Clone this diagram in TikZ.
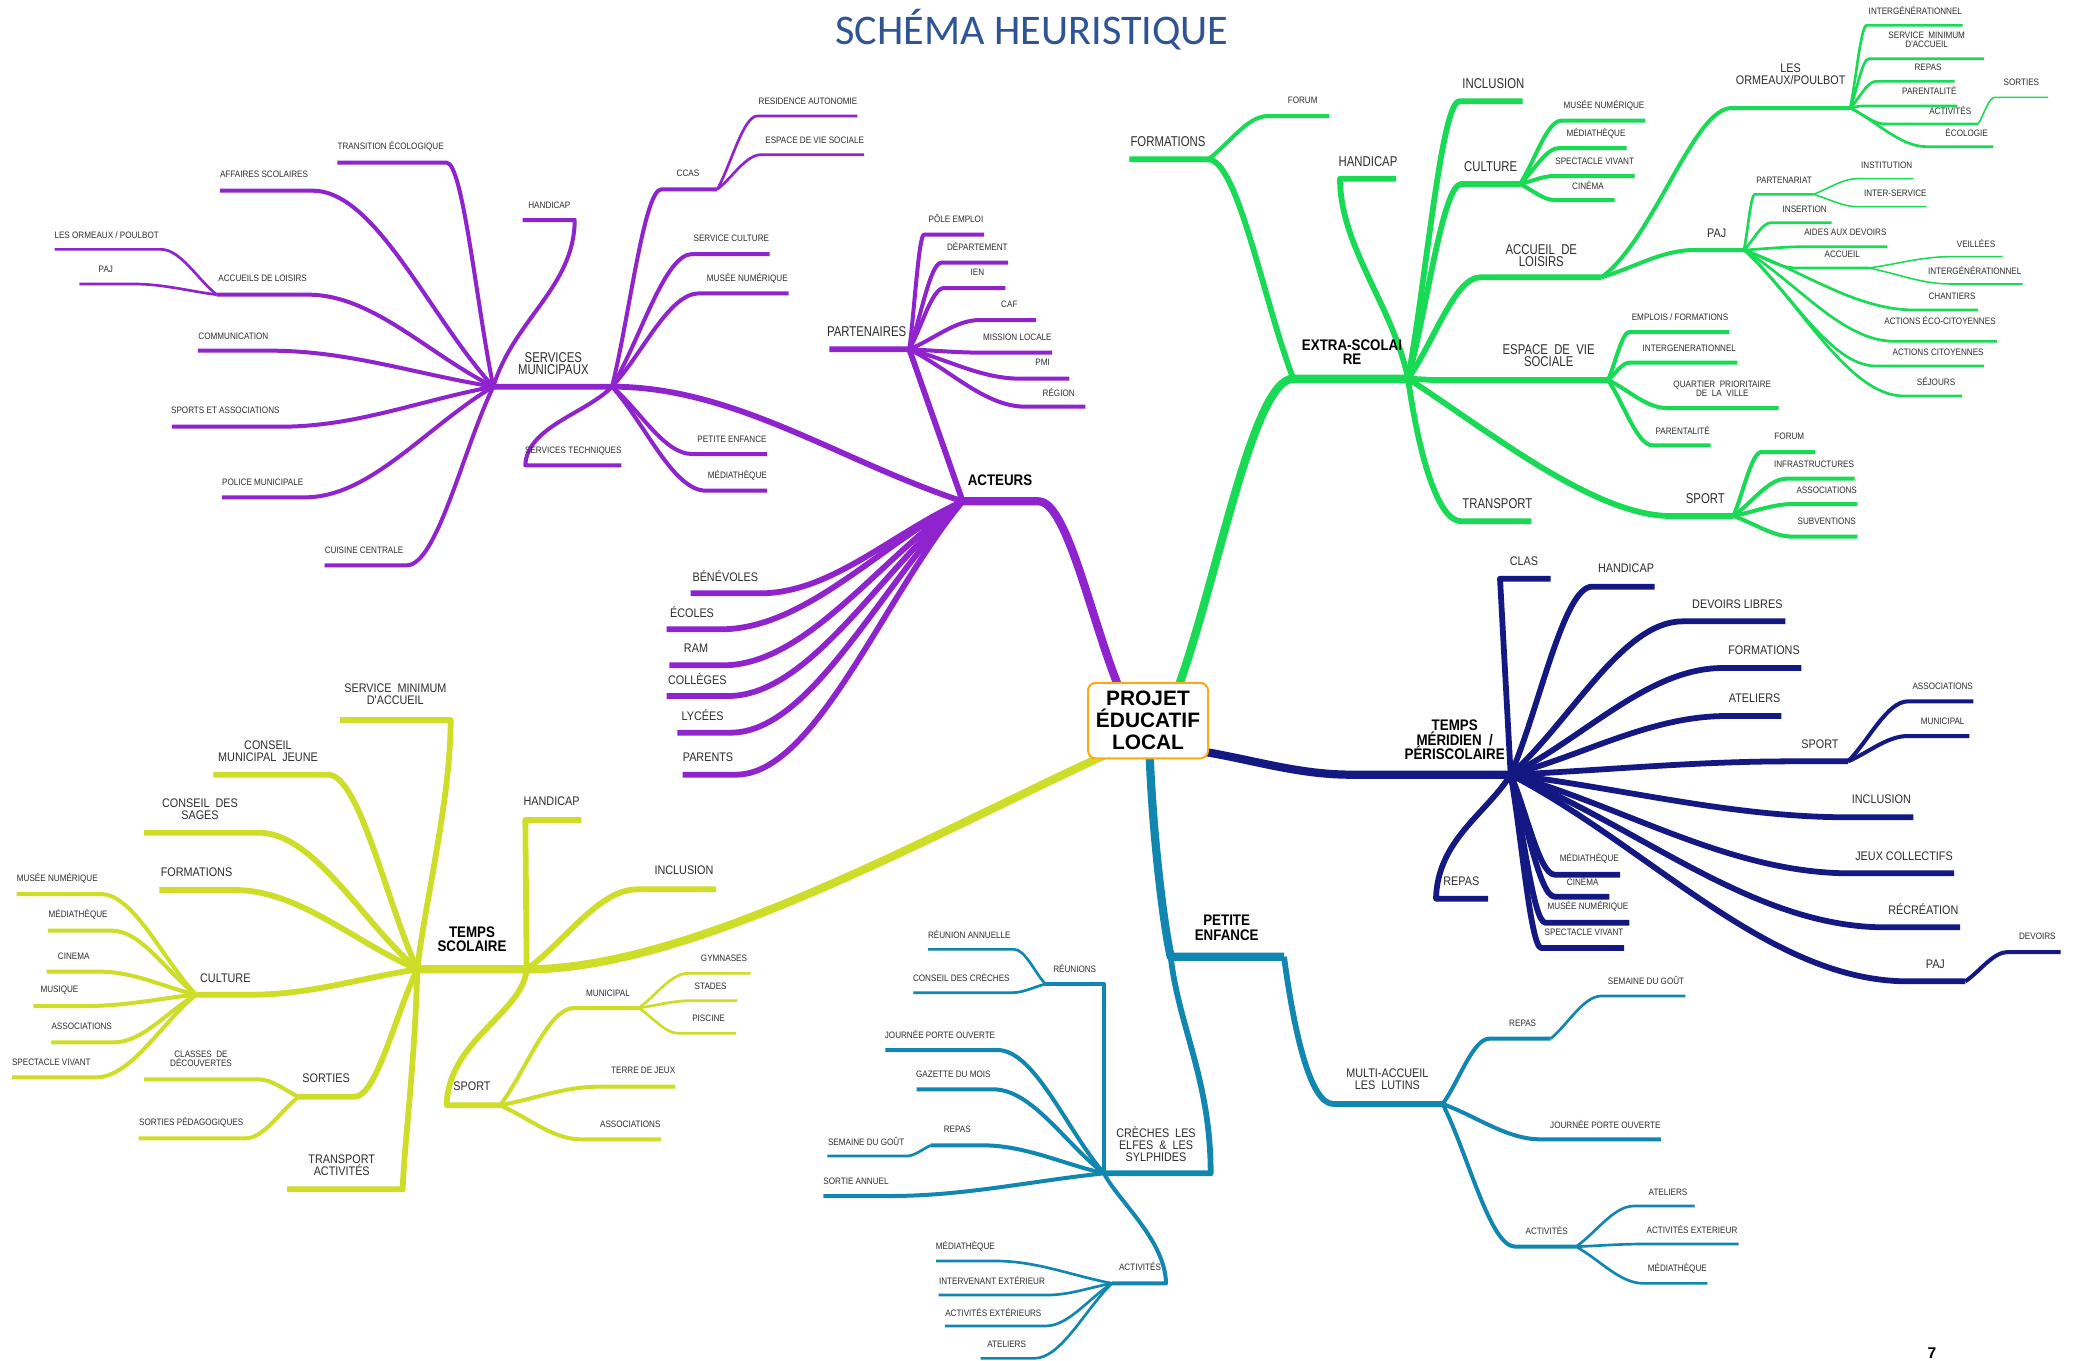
\documentclass[tikz,border=0pt]{standalone}
\usepackage{fontspec}
\setmainfont{Liberation Sans}
\newfontfamily\nf[FakeStretch=0.87]{Liberation Sans}
\newfontfamily\nfm[FakeStretch=0.8]{Liberation Sans}
\newfontfamily\ttlfont{Carlito}
\usetikzlibrary{calc}
\pgfdeclarelayer{fg}
\pgfsetlayers{main,fg}
\definecolor{cPur}{RGB}{143,35,205}
\definecolor{cGrn}{RGB}{24,218,85}
\definecolor{cNav}{RGB}{19,24,130}
\definecolor{cTea}{RGB}{16,134,176}
\definecolor{cYel}{RGB}{205,221,40}
\definecolor{cTit}{RGB}{47,84,150}
\definecolor{cOra}{RGB}{255,168,20}
\definecolor{cTxt}{RGB}{45,45,45}
\tikzset{
 br/.style={to path={let \p1=(\tikztostart),\p2=(\tikztotarget) in .. controls ({0.65*\x1+0.35*\x2},{0.65*\y1+0.35*\y2}) and ({0.35*\x1+0.65*\x2},\y2) .. (\tikztotarget)}},
 ln/.style={to path={-- (\tikztotarget)}},
 cc/.style 2 args={to path={.. controls #1 and #2 .. (\tikztotarget)}},
 w1/.style={line width=3.7pt}, w2/.style={line width=2.6pt}, w3/.style={line width=1.8pt},
 w4/.style={line width=1.2pt}, w5/.style={line width=0.7pt},
 pu/.style={draw=cPur,line join=round}, gr/.style={draw=cGrn,line join=round},
 nv/.style={draw=cNav,line join=round}, te/.style={draw=cTea,line join=round},
 ye/.style={draw=cYel,line join=round},
 lt/.style={font={\nf\fontsize{4.2}{4.0}\selectfont\lineskiplimit=-5pt},text=cTxt,inner sep=0pt,align=center},
 ls/.style={font={\nf\fontsize{5.6}{5.5}\selectfont\lineskiplimit=-5pt},text=cTxt,inner sep=0pt,align=center},
 lm/.style={font={\nfm\fontsize{6.4}{5.4}\selectfont\lineskiplimit=-5pt},text=cTxt,inner sep=0pt,align=center},
 lb/.style={font={\nf\bfseries\fontsize{6.9}{6.5}\selectfont\lineskiplimit=-5pt},text=black,inner sep=0pt,align=center},
}
% #1 line style, #2 curve, #3 parent, #4 name, #5 sx, #6 y, #7 ex, #8 label options, #9 text
\newcommand\Lf[9]{%
  \coordinate (#4s) at (#5,#6);
  \coordinate (#4) at (#7,#6);
  \draw[#1] (#3) to[#2] (#4s) -- (#4);
  \begin{pgfonlayer}{fg}\node[#8] (#4t) {#9};\end{pgfonlayer}}
\begin{document}
\begin{tikzpicture}[x=0.6pt,y=-0.6pt]
\fill[white] (0,0) rectangle (1560,1020);
\useasboundingbox (0,0) rectangle (1560,1020);
\node[font=\ttlfont\fontsize{19}{22}\selectfont,text=cTit] (title) at (774,22) {SCHÉMA HEURISTIQUE};

\coordinate (c-a) at (841,520);
\coordinate (c-g) at (882,520);
\coordinate (c-n) at (898,563);
\coordinate (c-t) at (862,560);
\coordinate (c-y) at (838,562);

% ===== ACTEURS
\Lf{pu,w1}{br}{c-a}{p-act}{779}{376}{722}{lb,at={(750,360)}}{ACTEURS}
\Lf{pu,w2}{br}{p-act}{p-ben}{570}{445}{518}{ls,at={(544,432)}}{BÉNÉVOLES}
\Lf{pu,w2}{br}{p-act}{p-eco}{540}{472}{500}{ls,at={(519,459)}}{ÉCOLES}
\Lf{pu,w2}{br}{p-act}{p-ram}{542}{499}{502}{ls,at={(522,486)}}{RAM}
\Lf{pu,w2}{br}{p-act}{p-col}{546}{522}{500}{ls,at={(523,509)}}{COLLÈGES}
\Lf{pu,w2}{br}{p-act}{p-lyc}{548}{549.5}{508}{ls,at={(527,536.5)}}{LYCÉES}
\Lf{pu,w2}{br}{p-act}{p-prt}{552}{581}{512}{ls,at={(531,568)}}{PARENTS}
\Lf{pu,w2}{br}{p-act}{p-sm}{459}{290}{370}{lm,at={(415,273)}}{SERVICES\\MUNICIPAUX}
\Lf{pu,w2}{ln}{p-act}{p-par}{682}{262}{622}{lm,at={(650,249)}}{PARTENAIRES}
\Lf{pu,w3}{br}{p-pars}{p-pol}{693}{176}{738}{lt,at={(717,164)}}{PÔLE EMPLOI}
\Lf{pu,w3}{br}{p-pars}{p-dep}{706}{197}{756}{lt,at={(733,185)}}{DÉPARTEMENT}
\Lf{pu,w3}{br}{p-pars}{p-ien}{708}{216}{754}{lt,at={(733,204)}}{IEN}
\Lf{pu,w3}{br}{p-pars}{p-caf}{735}{240}{777}{lt,at={(757,228)}}{CAF}
\Lf{pu,w3}{br}{p-pars}{p-mis}{737}{264.5}{789}{lt,at={(763,253)}}{MISSION LOCALE}
\Lf{pu,w3}{br}{p-pars}{p-pmi}{765}{284}{802}{lt,at={(782,272)}}{PMI}
\Lf{pu,w3}{br}{p-pars}{p-reg}{769}{305}{814}{lt,at={(794,294)}}{RÉGION}
\Lf{pu,w3}{br}{p-sm}{p-tra}{335}{122}{253}{lt,at={(293,110)}}{TRANSITION ÉCOLOGIQUE}
\Lf{pu,w3}{br}{p-sm}{p-aff}{234.5}{143}{165}{lt,at={(198,131)}}{AFFAIRES SCOLAIRES}
\Lf{pu,w3}{cc={(385,240)}{(431,215)}}{p-sm}{p-han}{431}{165}{392}{lt,at={(412,154)}}{HANDICAP}
\Lf{pu,w3}{br}{p-sm}{p-adl}{231}{221}{162.5}{lt,at={(197,209)}}{ACCUEILS DE LOISIRS}
\Lf{pu,w3}{br}{p-sm}{p-com}{202.7}{263}{148.4}{lt,at={(175,252)}}{COMMUNICATION}
\Lf{pu,w3}{br}{p-sm}{p-spa}{211}{320}{129}{lt,at={(169,308)}}{SPORTS ET ASSOCIATIONS}
\Lf{pu,w3}{br}{p-sm}{p-pom}{228.8}{373}{166.5}{lt,at={(197,361.5)}}{POLICE MUNICIPALE}
\Lf{pu,w3}{br}{p-sm}{p-cui}{305}{424}{243.5}{lt,at={(273,412.5)}}{CUISINE CENTRALE}
\Lf{pu,w4}{br}{p-adl}{p-orm}{120.6}{187}{41}{lt,at={(80,176)}}{LES ORMEAUX / POULBOT}
\Lf{pu,w4}{br}{p-adl}{p-paj}{100.5}{213}{59.6}{lt,at={(79.4,202)}}{PAJ}
\Lf{pu,w3}{br}{p-sms}{p-cca}{496}{142}{538}{lt,at={(516,130)}}{CCAS}
\Lf{pu,w4}{br}{p-cca}{p-res}{568}{87}{643}{lt,at={(606,76)}}{RESIDENCE AUTONOMIE}
\Lf{pu,w4}{br}{p-cca}{p-evs}{571}{116}{648}{lt,at={(611,105.5)}}{ESPACE DE VIE SOCIALE}
\Lf{pu,w3}{br}{p-sms}{p-scu}{519.3}{190.5}{577.3}{lt,at={(548.5,178.5)}}{SERVICE CULTURE}
\Lf{pu,w3}{br}{p-sms}{p-mus}{524.4}{220}{591.4}{lt,at={(560.5,208.7)}}{MUSÉE NUMÉRIQUE}
\Lf{pu,w3}{br}{p-sms}{p-pen}{519}{340.5}{575.3}{lt,at={(549,329.5)}}{PETITE ENFANCE}
\Lf{pu,w3}{br}{p-sms}{p-med}{529.4}{368}{575.3}{lt,at={(553,356.7)}}{MÉDIATHÈQUE}
\Lf{pu,w3}{cc={(440,310)}{(395,320)}}{p-sms}{p-ste}{394}{349}{466}{lt,at={(430,338)}}{SERVICES TECHNIQUES}

% ===== EXTRA-SCOLAIRE
\Lf{gr,w1}{br}{c-g}{g-ex}{970}{284}{1056}{lb,at={(1014,264)}}{EXTRA-SCOLAI\\RE}
\Lf{gr,w2}{br}{g-exs}{g-fmt}{906}{119.5}{847}{lm,at={(876,106)}}{FORMATIONS}
\Lf{gr,w3}{br}{g-fmts}{g-for}{951}{87}{997}{lt,at={(977,75)}}{FORUM}
\Lf{gr,w2}{cc={(1045,230)}{(1005,185)}}{g-ex}{g-han}{1005}{134}{1047}{lm,at={(1026,121)}}{HANDICAP}
\Lf{gr,w2}{br}{g-ex}{g-inc}{1094.5}{76}{1142}{lm,at={(1120,63)}}{INCLUSION}
\Lf{gr,w2}{br}{g-ex}{g-cul}{1096}{138}{1140}{lm,at={(1118,125)}}{CULTURE}
\Lf{gr,w3}{br}{g-cul}{g-cmn}{1171}{90.5}{1234}{lt,at={(1203,79)}}{MUSÉE NUMÉRIQUE}
\Lf{gr,w3}{br}{g-cul}{g-cme}{1169.5}{111}{1220}{lt,at={(1197,100)}}{MÉDIATHÈQUE}
\Lf{gr,w3}{br}{g-cul}{g-csv}{1166}{132}{1226}{lt,at={(1196,121)}}{SPECTACLE VIVANT}
\Lf{gr,w3}{br}{g-cul}{g-cci}{1166}{150}{1211}{lt,at={(1191,139)}}{CINÉMA}
\Lf{gr,w2}{br}{g-ex}{g-adl}{1110}{208}{1201}{lm,at={(1156,191.5)}}{ACCUEIL~~DE\\LOISIRS}
\Lf{gr,w3}{cc={(1240,180)}{(1270,81)}}{g-adl}{g-orm}{1298.7}{81}{1387.7}{ls,at={(1343,55.5)}}{LES\\ORMEAUX/POULBOT}
\Lf{gr,w4}{br}{g-orm}{g-oig}{1400}{19}{1472}{lt,at={(1436.5,8)}}{INTERGÉNÉRATIONNEL}
\Lf{gr,w4}{br}{g-orm}{g-osm}{1401.6}{44}{1488}{lt,at={(1445,30)}}{SERVICE~~MINIMUM\\D'ACCUEIL}
\Lf{gr,w4}{br}{g-orm}{g-ore}{1407}{61}{1466}{lt,at={(1446,50.5)}}{REPAS}
\Lf{gr,w4}{br}{g-orm}{g-opa}{1396.4}{79.5}{1468}{lt,at={(1447,67.5)}}{PARENTALITÉ}
\Lf{gr,w4}{br}{g-orm}{g-oac}{1414}{93}{1483.6}{lt,at={(1462.7,82.5)}}{ACTIVITÉS}
\Lf{gr,w5}{br}{g-oac}{g-oso}{1496}{73}{1536}{lt,at={(1516,62)}}{SORTIES}
\Lf{gr,w4}{br}{g-orm}{g-oec}{1445}{110}{1495}{lt,at={(1475,99.5)}}{ÉCOLOGIE}
\Lf{gr,w3}{br}{g-adl}{g-paj}{1270.8}{187.5}{1308}{ls,at={(1287.5,175)}}{PAJ}
\Lf{gr,w4}{br}{g-paj}{g-ppa}{1316}{145.75}{1360}{lt,at={(1338,135.5)}}{PARTENARIAT}
\Lf{gr,w5}{br}{g-ppa}{g-pin}{1393}{134}{1435}{lt,at={(1415,124)}}{INSTITUTION}
\Lf{gr,w5}{br}{g-ppa}{g-pis}{1393}{155}{1445}{lt,at={(1421.5,145)}}{INTER-SERVICE}
\Lf{gr,w4}{br}{g-paj}{g-pie}{1328.4}{167}{1373.7}{lt,at={(1353.5,156.75)}}{INSERTION}
\Lf{gr,w4}{br}{g-paj}{g-pad}{1354.5}{185}{1415.6}{lt,at={(1384,174.5)}}{AIDES AUX DEVOIRS}
\Lf{gr,w4}{br}{g-paj}{g-pac}{1347.5}{201}{1401.6}{lt,at={(1381.7,191)}}{ACCUEIL}
\Lf{gr,w5}{br}{g-pac}{g-pve}{1462.7}{192.5}{1502}{lt,at={(1482,182.5)}}{VEILLÉES}
\Lf{gr,w5}{br}{g-pac}{g-pig}{1462.7}{213}{1517}{lt,at={(1481,203)}}{INTERGÉNÉRATIONNEL}
\Lf{gr,w4}{br}{g-paj}{g-pch}{1436}{232.5}{1483.6}{lt,at={(1464,222)}}{CHANTIERS}
\Lf{gr,w4}{br}{g-paj}{g-pae}{1420.8}{256}{1497.6}{lt,at={(1455,240)}}{ACTIONS ÉCO-CITOYENNES}
\Lf{gr,w4}{br}{g-paj}{g-pct}{1407}{274.5}{1488}{lt,at={(1453.6,264)}}{ACTIONS CITOYENNES}
\Lf{gr,w4}{br}{g-paj}{g-psj}{1428}{297}{1471.4}{lt,at={(1452,286)}}{SÉJOURS}
\Lf{gr,w2}{ln}{g-ex}{g-evs}{1075}{285}{1206}{lm,at={(1161.5,267)}}{ESPACE~~DE~~VIE\\SOCIALE}
\Lf{gr,w3}{br}{g-evs}{g-eem}{1222}{249}{1297}{lt,at={(1260,237.5)}}{EMPLOIS / FORMATIONS}
\Lf{gr,w3}{br}{g-evs}{g-eig}{1222}{272}{1303}{lt,at={(1267,261)}}{INTERGENERATIONNEL}
\Lf{gr,w3}{br}{g-evs}{g-eqp}{1250}{306}{1334}{lt,at={(1291.7,291.5)}}{QUARTIER~~PRIORITAIRE\\DE~~LA~~VILLE}
\Lf{gr,w3}{br}{g-evs}{g-epa}{1239.4}{334}{1283}{lt,at={(1262,322.5)}}{PARENTALITÉ}
\Lf{gr,w2}{cc={(1064,340)}{(1078,391)}}{g-ex}{g-tra}{1096}{391}{1148.6}{lm,at={(1123,377.5)}}{TRANSPORT}
\Lf{gr,w2}{cc={(1115,322)}{(1195,387)}}{g-ex}{g-spo}{1253}{387}{1300}{lm,at={(1279,374)}}{SPORT}
\Lf{gr,w3}{br}{g-spo}{g-sfo}{1321}{339}{1361.5}{lt,at={(1342,327.5)}}{FORUM}
\Lf{gr,w3}{br}{g-spo}{g-sin}{1340}{359}{1391}{lt,at={(1360.5,348)}}{INFRASTRUCTURES}
\Lf{gr,w3}{br}{g-spo}{g-sas}{1345}{378}{1393}{lt,at={(1370,367.5)}}{ASSOCIATIONS}
\Lf{gr,w3}{br}{g-spo}{g-ssu}{1345}{402.5}{1393}{lt,at={(1370,391)}}{SUBVENTIONS}

% ===== TEMPS MERIDIEN
\Lf{nv,w1}{br}{c-n}{n-tm}{1013}{581}{1133}{lb,at={(1091,555)}}{TEMPS\\MÉRIDIEN~~/\\PÉRISCOLAIRE}
\Lf{nv,w2}{ln}{n-tm}{n-cla}{1125}{434}{1163}{ls,at={(1143,421)}}{CLAS}
\Lf{nv,w2}{br}{n-tm}{n-han}{1194}{440}{1241}{ls,at={(1219.5,426)}}{HANDICAP}
\Lf{nv,w2}{br}{n-tm}{n-dev}{1262}{466}{1339}{ls,at={(1303,453)}}{DEVOIRS LIBRES}
\Lf{nv,w2}{br}{n-tm}{n-for}{1292}{501}{1351}{ls,at={(1323,487.5)}}{FORMATIONS}
\Lf{nv,w2}{br}{n-tm}{n-ate}{1295}{537}{1336}{ls,at={(1316,524)}}{ATELIERS}
\Lf{nv,w2}{br}{n-tm}{n-spo}{1344}{571}{1386}{ls,at={(1365,558)}}{SPORT}
\Lf{nv,w3}{br}{n-spo}{n-sas}{1431}{526}{1480}{lt,at={(1457,515)}}{ASSOCIATIONS}
\Lf{nv,w3}{br}{n-spo}{n-smu}{1431}{552}{1477}{lt,at={(1457,541)}}{MUNICIPAL}
\Lf{nv,w2}{br}{n-tm}{n-inc}{1388}{613}{1435}{ls,at={(1411,599.5)}}{INCLUSION}
\Lf{nv,w2}{br}{n-tm}{n-jeu}{1388}{655}{1465.5}{ls,at={(1428,642)}}{JEUX COLLECTIFS}
\Lf{nv,w2}{br}{n-tm}{n-rec}{1414}{695.5}{1470}{ls,at={(1442.5,682)}}{RÉCRÉATION}
\Lf{nv,w2}{br}{n-tm}{n-paj}{1431}{736}{1474}{ls,at={(1451.5,723)}}{PAJ}
\Lf{nv,w3}{br}{n-paj}{n-dvs}{1506}{714}{1545.5}{lt,at={(1528,702.5)}}{DEVOIRS}
\Lf{nv,w2}{br}{n-tm}{n-med}{1166}{656}{1215}{lt,at={(1192,644)}}{MÉDIATHÈQUE}
\Lf{nv,w2}{br}{n-tm}{n-cin}{1166}{672.5}{1207}{lt,at={(1187,661)}}{CINÉMA}
\Lf{nv,w2}{br}{n-tm}{n-mus}{1159}{692}{1222}{lt,at={(1191,680)}}{MUSÉE NUMÉRIQUE}
\Lf{nv,w2}{br}{n-tm}{n-spe}{1156}{711}{1218}{lt,at={(1188,699)}}{SPECTACLE VIVANT}
\Lf{nv,w2}{cc={(1115,610)}{(1078,630)}}{n-tm}{n-rep}{1077}{674}{1116}{ls,at={(1096,661)}}{REPAS}

% ===== PETITE ENFANCE
\Lf{te,w1}{cc={(864,620)}{(872,690)}}{c-t}{t-pe}{878}{717.5}{963}{lb,at={(920,696)}}{PETITE\\ENFANCE}
\Lf{te,w2}{cc={(970,770)}{(982,828)}}{t-pe}{t-ma}{1000}{828}{1082}{ls,at={(1040.5,809.5)}}{MULTI-ACCUEIL\\LES~~LUTINS}
\Lf{te,w3}{br}{t-ma}{t-mre}{1117}{779}{1163}{lt,at={(1142,767.5)}}{REPAS}
\Lf{te,w4}{br}{t-mre}{t-msg}{1201}{747}{1264}{lt,at={(1234.5,735.5)}}{SEMAINE DU GOÛT}
\Lf{te,w3}{br}{t-ma}{t-mjp}{1155.6}{854.5}{1245.6}{lt,at={(1204,843)}}{JOURNÉE PORTE OUVERTE}
\Lf{te,w3}{br}{t-ma}{t-mac}{1136.4}{935}{1182}{lt,at={(1160,923)}}{ACTIVITÉS}
\Lf{te,w4}{br}{t-mac}{t-mat}{1225.4}{904.5}{1271}{lt,at={(1251,894)}}{ATELIERS}
\Lf{te,w4}{br}{t-mac}{t-mae}{1232.4}{933}{1304}{lt,at={(1269,922)}}{ACTIVITÉS EXTERIEUR}
\Lf{te,w4}{br}{t-mac}{t-mam}{1232.4}{962.5}{1280.5}{lt,at={(1258,951.5)}}{MÉDIATHÈQUE}
\Lf{te,w2}{cc={(884,770)}{(908,810)}}{t-pes}{t-cr}{908}{880}{828}{ls,at={(867,858)}}{CRÈCHES~~LES\\ELFES~~\&~~LES\\SYLPHIDES}
\Lf{te,w3}{ln}{t-cr}{t-reu}{828}{738}{784}{lt,at={(806,726)}}{RÉUNIONS}
\Lf{te,w4}{br}{t-reu}{t-ran}{760.5}{712}{696}{lt,at={(727,701)}}{RÉUNION ANNUELLE}
\Lf{te,w4}{br}{t-reu}{t-ccr}{759}{744.5}{685}{lt,at={(721,733)}}{CONSEIL DES CRÈCHES}
\Lf{te,w3}{br}{t-cr}{t-jpo}{748}{787.5}{664}{lt,at={(705,776)}}{JOURNÉE PORTE OUVERTE}
\Lf{te,w3}{br}{t-cr}{t-gaz}{745}{817}{687.5}{lt,at={(715,805.5)}}{GAZETTE DU MOIS}
\Lf{te,w3}{br}{t-cr}{t-rep}{737}{859}{698}{lt,at={(718,847)}}{REPAS}
\Lf{te,w4}{br}{t-rep}{t-sem}{680}{867}{620.5}{lt,at={(649.6,856)}}{SEMAINE DU GOÛT}
\Lf{te,w3}{br}{t-cr}{t-sor}{667}{897}{617.5}{lt,at={(642,886)}}{SORTIE ANNUEL}
\Lf{te,w3}{cc={(838,900)}{(874,930)}}{t-cr}{t-act}{874.5}{962.5}{834}{lt,at={(855,950)}}{ACTIVITÉS}
\Lf{te,w4}{br}{t-act}{t-ame}{747}{945.75}{702}{lt,at={(724,935)}}{MÉDIATHÈQUE}
\Lf{te,w4}{br}{t-act}{t-aie}{785.6}{971.25}{704}{lt,at={(744,960)}}{INTERVENANT EXTÉRIEUR}
\Lf{te,w4}{br}{t-act}{t-aae}{784}{994.5}{708.6}{lt,at={(745,984)}}{ACTIVITÉS EXTÉRIEURS}
\Lf{te,w4}{br}{t-act}{t-aat}{775.6}{1018.75}{735.4}{lt,at={(755,1008)}}{ATELIERS}

% ===== TEMPS SCOLAIRE
\Lf{ye,w1}{cc={(700,625)}{(520,727)}}{c-y}{y-ts}{395}{727}{313}{lb,at={(354,704.5)}}{TEMPS\\SCOLAIRE}
\Lf{ye,w2}{cc={(318,680)}{(338,600)}}{y-ts}{y-smi}{338}{540}{255}{ls,at={(296.5,520.5)}}{SERVICE~~MINIMUM\\D'ACCUEIL}
\Lf{ye,w2}{br}{y-ts}{y-cmj}{246}{581}{160}{ls,at={(201,563.5)}}{CONSEIL\\MUNICIPAL~~JEUNE}
\Lf{ye,w2}{br}{y-ts}{y-cds}{194}{624.5}{108}{ls,at={(150,607)}}{CONSEIL~~DES\\SAGES}
\Lf{ye,w2}{br}{y-ts}{y-for}{176}{667.5}{119.6}{ls,at={(147.4,654.5)}}{FORMATIONS}
\Lf{ye,w2}{br}{y-ts}{y-cul}{189}{746}{147}{ls,at={(169,734)}}{CULTURE}
\Lf{ye,w3}{br}{y-cul}{y-cmn}{75.4}{670.5}{12.4}{lt,at={(43,659)}}{MUSÉE NUMÉRIQUE}
\Lf{ye,w3}{br}{y-cul}{y-cme}{84}{698}{36}{lt,at={(58.6,686)}}{MÉDIATHÈQUE}
\Lf{ye,w3}{br}{y-cul}{y-cci}{75}{728.75}{35}{lt,at={(55.3,717.5)}}{CINEMA}
\Lf{ye,w3}{br}{y-cul}{y-cmu}{65}{754.5}{25}{lt,at={(44.6,742.5)}}{MUSIQUE}
\Lf{ye,w3}{br}{y-cul}{y-cas}{85.4}{781.75}{38.5}{lt,at={(61.3,770)}}{ASSOCIATIONS}
\Lf{ye,w3}{br}{y-cul}{y-csv}{72}{808}{9}{lt,at={(38.5,797)}}{SPECTACLE VIVANT}
\Lf{ye,w2}{br}{y-ts}{y-sor}{266}{822.5}{224}{ls,at={(244.6,809)}}{SORTIES}
\Lf{ye,w3}{br}{y-sor}{y-cla}{194}{809.5}{108}{lt,at={(150.75,794)}}{CLASSES~~DE\\DÉCOUVERTES}
\Lf{ye,w3}{br}{y-sor}{y-spe}{184}{853.75}{104}{lt,at={(143.4,842)}}{SORTIES PÉDAGOGIQUES}
\Lf{ye,w2}{cc={(311,800)}{(303,860)}}{y-ts}{y-tra}{302}{892}{215.4}{ls,at={(256.3,874)}}{TRANSPORT\\ACTIVITÉS}
\Lf{ye,w2}{ln}{y-tss}{y-han}{394}{615}{436}{ls,at={(413.7,601.25)}}{HANDICAP}
\Lf{ye,w2}{br}{y-tss}{y-inc}{478}{667}{537}{ls,at={(513,653)}}{INCLUSION}
\Lf{ye,w2}{cc={(392,760)}{(336,780)}}{y-tss}{y-spo}{335}{829}{375}{ls,at={(354,815)}}{SPORT}
\Lf{ye,w3}{br}{y-spo}{y-mun}{430.5}{756}{479}{lt,at={(456,745)}}{MUNICIPAL}
\Lf{ye,w4}{br}{y-mun}{y-gym}{516}{730}{563}{lt,at={(543,719)}}{GYMNASES}
\Lf{ye,w4}{br}{y-mun}{y-sta}{518}{750.5}{553}{lt,at={(533,739.5)}}{STADES}
\Lf{ye,w4}{br}{y-mun}{y-pis}{509}{775}{552}{lt,at={(531.4,764)}}{PISCINE}
\Lf{ye,w3}{br}{y-spo}{y-tdj}{449}{815}{506.5}{lt,at={(482.4,803)}}{TERRE DE JEUX}
\Lf{ye,w3}{br}{y-spo}{y-ass}{435.5}{854.5}{495.8}{lt,at={(472.7,843)}}{ASSOCIATIONS}

% ===== centre
\begin{pgfonlayer}{fg}
\node[draw=cOra,line width=0.9pt,rounded corners=3.5pt,fill=white,minimum width=54pt,minimum height=34pt,inner sep=1pt,align=center,font=\bfseries\fontsize{9.4}{9.9}\selectfont] (plc) at (861,540.5) {PROJET\\ÉDUCATIF\\LOCAL};
\node[font=\bfseries\fontsize{7}{7}\selectfont,anchor=south,inner sep=0pt] (pg) at (1449,1019) {7};
\end{pgfonlayer}
\end{tikzpicture}
\end{document}
